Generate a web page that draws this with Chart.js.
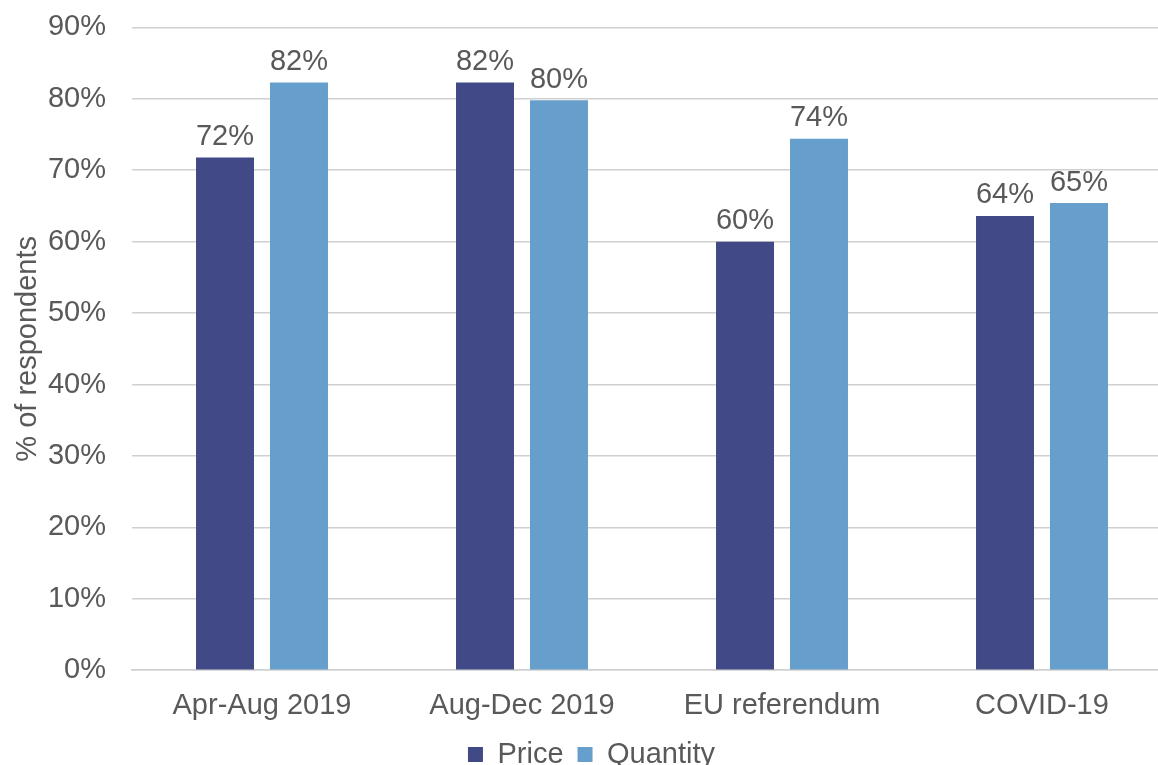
<!DOCTYPE html>
<html>
<head>
<meta charset="utf-8">
<script src="https://cdn.jsdelivr.net/npm/chart.js@4.4.1/dist/chart.umd.min.js"></script>
<style>
  html, body { margin: 0; padding: 0; background: #fff; overflow: hidden; }
  #wrap { position: relative; top: -16px; width: 1176px; height: 798px; }
</style>
</head>
<body>
<div id="wrap"><canvas id="c"></canvas></div>
<script>
const categories = ['Apr-Aug 2019', 'Aug-Dec 2019', 'EU referendum', 'COVID-19'];
const priceValues = [71.8, 82.3, 60.0, 63.6];
const quantityValues = [82.3, 79.8, 74.4, 65.4];
const seriesNames = ['Price', 'Quantity'];
const yTicks = [0, 10, 20, 30, 40, 50, 60, 70, 80, 90];

const FONT = "'Liberation Sans', Arial, sans-serif";
const TEXT = '#595959';
const SIZE = 29;

// Percentage labels above each bar
const barLabels = {
  id: 'barLabels',
  afterDatasetsDraw(chart) {
    const ctx = chart.ctx;
    ctx.save();
    ctx.font = SIZE + 'px ' + FONT;
    ctx.fillStyle = TEXT;
    ctx.textAlign = 'center';
    ctx.textBaseline = 'bottom';
    chart.data.datasets.forEach((ds, i) => {
      chart.getDatasetMeta(i).data.forEach((bar, j) => {
        ctx.fillText(Math.round(ds.data[j]) + '%', bar.x, bar.y - 6);
      });
    });
    ctx.restore();
  }
};

new Chart(document.getElementById('c'), {
  type: 'bar',
  data: {
    labels: categories,
    datasets: [
      { label: seriesNames[0], data: priceValues, backgroundColor: '#414A86' },
      { label: seriesNames[1], data: quantityValues, backgroundColor: '#669FCB' }
    ]
  },
  options: {
    responsive: true,
    maintainAspectRatio: false,
    animation: false,
    categoryPercentage: 0.569,
    barPercentage: 0.784,
    layout: { padding: { top: 0, left: 11, right: 4, bottom: 3 } },
    plugins: {
      tooltip: { enabled: false },
      legend: {
        position: 'bottom',
        labels: {
          font: { family: FONT, size: SIZE },
          color: TEXT,
          boxWidth: 15,
          boxHeight: 15,
          padding: 14
        }
      }
    },
    scales: {
      x: {
        grid: { display: false, drawTicks: false },
        border: { color: '#d0d0d0', width: 1.5 },
        ticks: { font: { family: FONT, size: SIZE }, color: TEXT, padding: 18 },
        afterFit(scale) { scale.height = scale.height - 15; }
      },
      y: {
        min: 0,
        max: 90,
        afterBuildTicks(scale) { scale.ticks = yTicks.map(v => ({ value: v })); },
        afterFit(scale) { scale.width = 121; },
        grid: { color: '#d0d0d0', lineWidth: 1.5, drawTicks: false },
        border: { display: false },
        ticks: {
          font: { family: FONT, size: SIZE },
          color: TEXT,
          padding: 26,
          callback: v => v + '%'
        },
        title: {
          display: true,
          text: '% of respondents',
          font: { family: FONT, size: SIZE },
          color: TEXT,
          padding: { top: 0, bottom: 0 }
        }
      }
    }
  },
  plugins: [barLabels]
});
</script>
</body>
</html>
